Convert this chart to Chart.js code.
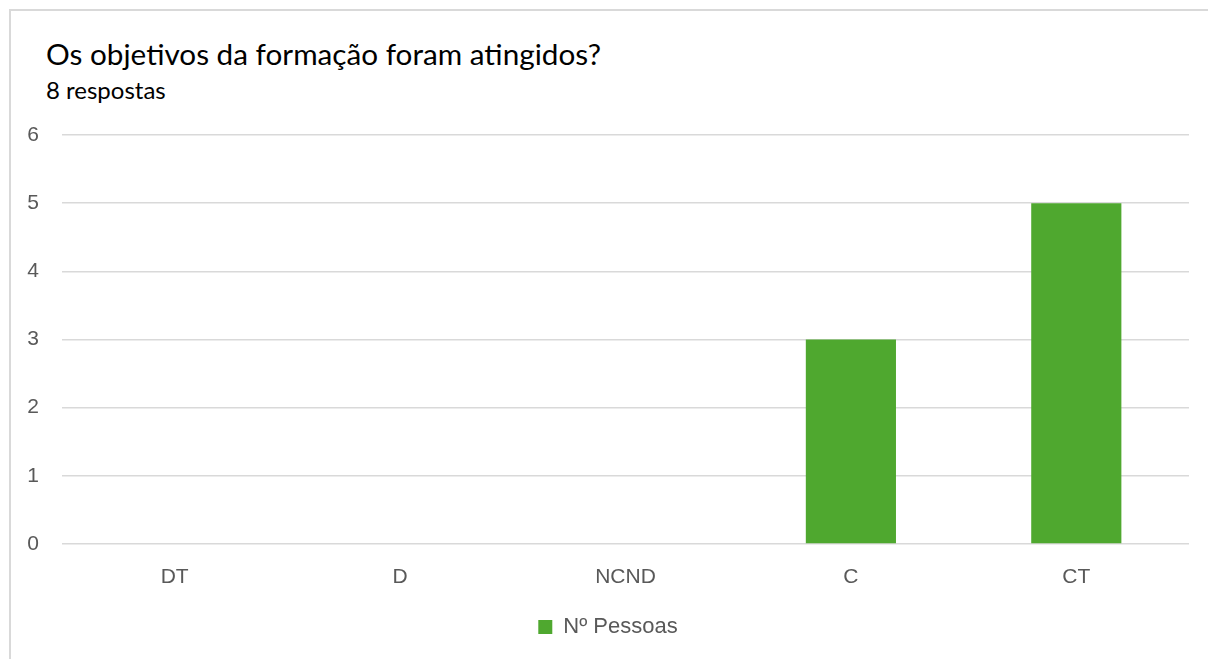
<!DOCTYPE html>
<html>
<head>
<meta charset="utf-8">
<script src="https://cdn.jsdelivr.net/npm/chart.js@4/dist/chart.umd.min.js"></script>
<style>
  html, body { margin: 0; padding: 0; background: #ffffff; overflow: hidden; }
  #wrap { position: relative; width: 1208px; height: 659px; overflow: hidden; }
  #topline { position: absolute; left: 9px; top: 9px; width: 1199px; height: 2px; background: #d9d9d9; }
  #leftline { position: absolute; left: 9px; top: 9px; width: 2px; height: 650px; background: #d9d9d9; }
  #title { position: absolute; left: 46px; top: 39px; font-family: Lato, "Open Sans", sans-serif; font-size: 29.7px; color: #000; white-space: nowrap; line-height: 1; }
  #subtitle { position: absolute; left: 46px; top: 78px; font-family: Lato, "Open Sans", sans-serif; font-size: 24px; color: #000; white-space: nowrap; line-height: 1; }
  canvas { position: absolute; left: 0; top: 0; }
</style>
</head>
<body>
<div id="wrap">
  <div id="topline"></div>
  <div id="leftline"></div>
  <div id="title">Os objetivos da formação foram atingidos?</div>
  <div id="subtitle">8 respostas</div>
  <canvas id="c" width="1208" height="659"></canvas>
</div>
<script>
const categories = ["DT", "D", "NCND", "C", "CT"];
const seriesName = "Nº Pessoas";
const pessoas = [0, 0, 0, 3, 5];
const yTicks = [0, 1, 2, 3, 4, 5, 6];

const tickFont = { family: "'Liberation Sans', Arial, sans-serif", size: 21 };
const legendFont = { family: "'Liberation Sans', Arial, sans-serif", size: 22 };
const tickColor = "#595959";

new Chart(document.getElementById("c"), {
  type: "bar",
  data: {
    labels: categories,
    datasets: [{
      label: seriesName,
      data: pessoas,
      backgroundColor: "#4fa82f",
      borderWidth: 0,
      categoryPercentage: 1.0,
      barPercentage: 0.4
    }]
  },
  options: {
    responsive: false,
    animation: false,
    layout: { padding: { left: 27, right: 19, top: 135, bottom: 11 } },
    plugins: {
      title: { display: false },
      tooltip: { enabled: false },
      legend: {
        display: true,
        position: "bottom",
        labels: {
          boxWidth: 14,
          boxHeight: 14,
          color: tickColor,
          font: legendFont,
          padding: 10
        }
      }
    },
    scales: {
      x: {
        grid: { display: false, drawTicks: false },
        border: { display: false },
        ticks: { color: tickColor, font: tickFont, padding: 21 },
        afterFit: (s) => { s.height = 62; }
      },
      y: {
        min: yTicks[0],
        max: yTicks[yTicks.length - 1],
        afterBuildTicks: (s) => { s.ticks = yTicks.map(v => ({ value: v })); },
        grid: { color: "#d9d9d9", lineWidth: 1.5, drawTicks: false },
        border: { display: false },
        ticks: { color: tickColor, font: tickFont, padding: 23 },
        afterFit: (s) => { s.width = 35; }
      }
    }
  }
});
</script>
</body>
</html>
